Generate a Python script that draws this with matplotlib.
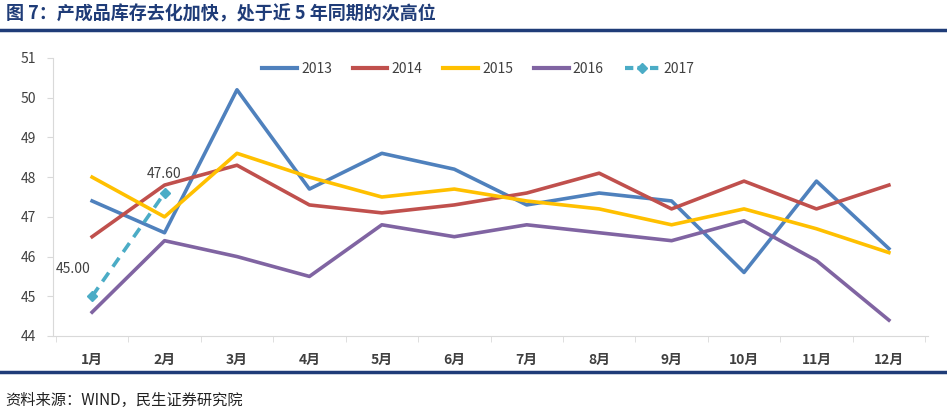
import numpy as np
import matplotlib.pyplot as plt
from matplotlib.lines import Line2D

plt.rcParams['font.family'] = ['Noto Sans CJK SC', 'DejaVu Sans']

months = ["1月", "2月", "3月", "4月", "5月", "6月", "7月", "8月", "9月", "10月", "11月", "12月"]
y2013 = [47.4, 46.6, 50.2, 47.7, 48.6, 48.2, 47.3, 47.6, 47.4, 45.6, 47.9, 46.2]
y2014 = [46.5, 47.8, 48.3, 47.3, 47.1, 47.3, 47.6, 48.1, 47.2, 47.9, 47.2, 47.8]
y2015 = [48.0, 47.0, 48.6, 48.0, 47.5, 47.7, 47.4, 47.2, 46.8, 47.2, 46.7, 46.1]
y2016 = [44.6, 46.4, 46.0, 45.5, 46.8, 46.5, 46.8, 46.6, 46.4, 46.9, 45.9, 44.4]
y2017 = [45.0, 47.6]

fig = plt.figure(figsize=(9.47, 4.17), dpi=100)
ax = fig.add_axes([53/947, 1-336/417, 875/947, 278/417])

x = np.arange(len(months))
lw = 2.6
ax.plot(x, y2013, color='#4F81BD', lw=lw, label="2013")
ax.plot(x, y2014, color='#C0504D', lw=lw, label="2014")
ax.plot(x, y2015, color='#FFC000', lw=lw, label="2015")
ax.plot(x, y2016, color='#8064A2', lw=lw, label="2016")
ax.plot(x[:len(y2017)], y2017, color='#4BACC6', lw=lw, ls=(0, (3, 2)),
        marker='D', markersize=5, label="2017")

ax.annotate(f"{y2017[0]:.2f}", (0, y2017[0]), xytext=(-14, 17), textcoords='offset points',
            ha='center', fontsize=10, color='#404040')
ax.annotate(f"{y2017[1]:.2f}", (1, y2017[1]), xytext=(0, 11), textcoords='offset points',
            ha='center', fontsize=10, color='#404040')

ax.set_xlim(-0.54, 11.54)
ax.set_ylim(44, 51)
ax.set_yticks(range(44, 52))
ax.set_xticks(x)
ax.set_xticklabels(months, fontweight='bold')
ax.set_xticks(np.arange(-0.5, 12, 1), minor=True)
ax.tick_params(axis='x', which='major', length=0, pad=12, labelsize=10, labelcolor='#404040')
ax.tick_params(axis='x', which='minor', length=4, color='#D9D9D9')
ax.tick_params(axis='y', length=4, color='#D9D9D9', labelsize=10, labelcolor='#404040', pad=8)
for s in ['top', 'right']:
    ax.spines[s].set_visible(False)
for s in ['left', 'bottom']:
    ax.spines[s].set_color('#D9D9D9')

handles = [Line2D([], [], color=c, lw=3) for c in ['#4F81BD', '#C0504D', '#FFC000', '#8064A2']]
handles.append(Line2D([], [], color='#4BACC6', lw=3, ls=(0, (2, 1)), marker='D', markersize=5))
ax.legend(handles, ["2013", "2014", "2015", "2016", "2017"], loc='upper center',
          bbox_to_anchor=(0.486, 1.03), ncol=5, frameon=False, fontsize=10,
          handlelength=2.5, handletextpad=0.3, columnspacing=1.5, labelcolor='#404040')

fig.text(0.006, 1-14/417, "图 7：产成品库存去化加快，处于近 5 年同期的次高位", fontsize=13,
         fontweight='bold', color='#1F3C78', va='center', ha='left')
fig.add_artist(Line2D([0, 1], [1-30/417, 1-30/417], color='#1F3C78', lw=2.5))
fig.add_artist(Line2D([0, 1], [1-372/417, 1-372/417], color='#1F3C78', lw=2.5))
fig.text(0.006, 1-400/417, "资料来源：WIND，民生证券研究院", fontsize=11, color='#222222',
         va='center', ha='left')

fig.savefig("out.png", dpi=100)
